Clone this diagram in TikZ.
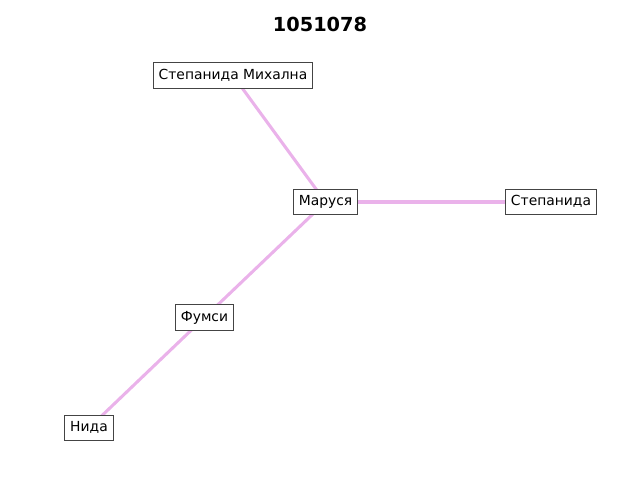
\documentclass[tikz,border=0pt]{standalone}
\usepackage{fontspec}
\setmainfont{DejaVu Sans}
\definecolor{edgec}{RGB}{234,178,234}
\definecolor{boxc}{RGB}{68,68,68}
\tikzset{
  lbl/.style={draw=boxc, line width=0.75pt, fill=white, font=\fontsize{10.4}{12}\selectfont,
    inner xsep=4.1pt, inner ysep=0pt, minimum height=19pt, text height=7.8pt, text depth=2.2pt},
  edge/.style={draw=edgec, line width=2.3pt},
  ttl/.style={font=\fontsize{14.5}{16}\selectfont\bfseries}
}
\begin{document}
\begin{tikzpicture}[x=0.75pt,y=-0.75pt]
\useasboundingbox (0,0) rectangle (640,480);
\node[ttl] (title) at (320,24) {1051078};
\coordinate (pSM) at (233,75.5);
\coordinate (pM) at (325.5,202);
\coordinate (pS) at (551,202);
\coordinate (pF) at (204.5,317.5);
\coordinate (pN) at (89,428);
\draw[edge] (pSM) -- (pM);
\draw[edge] (pM) -- (pS);
\draw[edge] (pM) -- (pF);
\draw[edge] (pF) -- (pN);
\node[lbl] (SM) at (pSM) {Степанида Михална};
\node[lbl] (M) at (pM) {Маруся};
\node[lbl] (S) at (pS) {Степанида};
\node[lbl] (F) at (pF) {Фумси};
\node[lbl] (N) at (pN) {Нида};
\end{tikzpicture}
\end{document}
